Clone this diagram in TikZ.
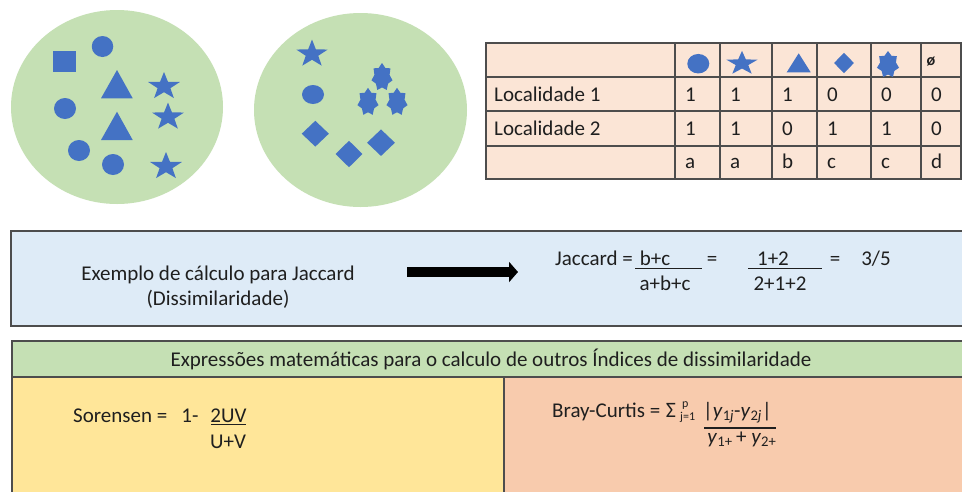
\documentclass[tikz,border=0pt]{standalone}
\usepackage{fontspec}
\setmainfont{Carlito}
\usetikzlibrary{shapes.geometric,arrows.meta}
\definecolor{leafgreen}{HTML}{C5E0B4}
\definecolor{shapeblue}{HTML}{4472C4}
\definecolor{tablepeach}{HTML}{FBE5D6}
\definecolor{boxblue}{HTML}{DEEBF7}
\definecolor{panelyellow}{HTML}{FFE699}
\definecolor{panelsalmon}{HTML}{F8CBAD}
\definecolor{rulegray}{HTML}{4D4D4D}
\definecolor{inkdark}{HTML}{1F1F1F}
\tikzset{
  pics/bluestar/.style n args={5}{code={
    \fill[shapeblue] (0,{-#4}) foreach \k in {1,...,#2} { -- ({(1-(1-#5)*mod(\k,2))*#3*cos(90+180/#1*\k)},{-(1-(1-#5)*mod(\k,2))*#4*sin(90+180/#1*\k)}) } -- cycle;
  }},
}
\begin{document}
\begin{tikzpicture}[x=1pt,y=-1pt,
  lbl/.style={inner sep=0pt, text=inkdark, font=\fontsize{21}{25}\selectfont, anchor=base},
  lblw/.style={lbl, anchor=base west},
  blob/.style={ellipse, fill=shapeblue, inner sep=0pt},
  gem/.style={diamond, fill=shapeblue, inner sep=0pt},
  tabrule/.style={draw=rulegray, line width=1.2pt},
  boxrule/.style={draw=rulegray, line width=1.4pt},
  fracbar/.style={draw=inkdark, line width=1.2pt},
]
\useasboundingbox (0,0) rectangle (962,491);
\fill[white] (0,0) rectangle (962,491);

% ---- site 1 ----
\node[ellipse, fill=leafgreen, minimum width=212pt, minimum height=194pt, inner sep=0pt] (siteA) at (117,107) {};
\node[fill=shapeblue, minimum width=22.7pt, minimum height=21pt, inner sep=0pt] (sqA) at (64.7,61.2) {};
\node[blob, minimum width=21.5pt, minimum height=21pt] (cA1) at (102.5,46.5) {};
\node[blob, minimum width=22pt, minimum height=21pt] (cA2) at (65,108.5) {};
\node[blob, minimum width=22pt, minimum height=21pt] (cA3) at (79,150.5) {};
\node[blob, minimum width=22pt, minimum height=21pt] (cA4) at (113,164.5) {};
\fill[shapeblue] (117,70) -- (132.7,98.3) -- (101,98.3) -- cycle;
\fill[shapeblue] (117,111.7) -- (132.7,140) -- (101,140) -- cycle;
\pic (stA1) at (164,86.4) {bluestar={5}{9}{16.8}{14.4}{0.4}};
\pic (stA2) at (168,117) {bluestar={5}{9}{16.8}{14.4}{0.4}};
\pic (stA3) at (166,166.4) {bluestar={5}{9}{16.8}{14.4}{0.4}};

% ---- site 2 ----
\node[ellipse, fill=leafgreen, minimum width=213pt, minimum height=194pt, inner sep=0pt] (siteB) at (360.5,110) {};
\pic (stB1) at (312,54) {bluestar={5}{9}{16.5}{14.4}{0.4}};
\node[blob, minimum width=22pt, minimum height=19pt] (cB1) at (313,94.5) {};
\pic (sealB1) at (382,77.2) {bluestar={7}{13}{10.8}{14.2}{0.72}};
\pic (sealB2) at (368,102) {bluestar={7}{13}{10.8}{14.2}{0.72}};
\pic (sealB3) at (397,102) {bluestar={7}{13}{10.8}{14.2}{0.72}};
\node[gem, minimum width=27.3pt, minimum height=26pt] (dB1) at (315.3,133.7) {};
\node[gem, minimum width=27pt, minimum height=26.6pt] (dB2) at (349,154) {};
\node[gem, minimum width=28pt, minimum height=26.7pt] (dB3) at (381,142.7) {};

% ---- table ----
\fill[tablepeach] (486,43) rectangle (961,179);
\draw[tabrule] (486,43) rectangle (961,179);
\foreach \yy in {77,111,146} \draw[tabrule] (486,\yy) -- (961,\yy);
\foreach \xx in {675,720,772,817,871,921} \draw[tabrule] (\xx,43) -- (\xx,179);
\node[blob, minimum width=22pt, minimum height=19.5pt] (hcirc) at (698.3,63.7) {};
\pic (hstar) at (742,63.5) {bluestar={5}{9}{16.5}{12.6}{0.4}};
\fill[shapeblue] (798.7,53.3) -- (810.7,72.3) -- (786.7,72.3) -- cycle;
\node[gem, minimum width=20pt, minimum height=20.6pt] (hdiam) at (844,63) {};
\pic (hseal) at (888,64.7) {bluestar={7}{13}{11.3}{13.7}{0.72}};
\node[inner sep=0pt, text=inkdark, font=\fontsize{16}{18}\selectfont\bfseries] (hnull) at (931,62) {ø};

\node[lblw] (loc1) at (494,101.5) {Localidade 1};
\node[lblw] (loc2) at (494,135.8) {Localidade 2};
\foreach \v [count=\i] in {1,1,1,0,0,0} {
  \pgfmathsetmacro{\cx}{{675,720,772,817,871,921}[\i-1]+10}
  \node[lblw] (ra\i) at (\cx,101.5) {\v};
}
\foreach \v [count=\i] in {1,1,0,1,1,0} {
  \pgfmathsetmacro{\cx}{{675,720,772,817,871,921}[\i-1]+10}
  \node[lblw] (rb\i) at (\cx,135.8) {\v};
}
\foreach \v [count=\i] in {a,a,b,c,c,d} {
  \pgfmathsetmacro{\cx}{{675,720,772,817,871,921}[\i-1]+10}
  \node[lblw] (rc\i) at (\cx,168.5) {\v};
}

% ---- Jaccard box ----
\draw[boxrule, fill=boxblue] (11,231) rectangle (975,326);
\node[lbl] (exA) at (218,280) {Exemplo de cálculo para Jaccard};
\node[lbl] (exB) at (218,305) {(Dissimilaridade)};
\coordinate (arrS) at (407,272);
\coordinate (arrE) at (518,272);
\draw[line width=10pt, black, -{Triangle[length=9pt,width=20pt]}] (arrS) -- (arrE);

\node[lblw] (jname) at (555,265) {Jaccard =};
\node[lbl] (jnum) at (655,265) {b+c};
\draw[fracbar] (635,268.5) -- (702,268.5);
\node[lbl] (jden) at (665,290.5) {a+b+c};
\node[lbl] (jeq1) at (712,265) {=};
\node[lbl] (jnum2) at (773,265) {1+2};
\draw[fracbar] (748,268.5) -- (822,268.5);
\node[lbl] (jden2) at (780,290.5) {2+1+2};
\node[lbl] (jeq2) at (835,265) {=};
\node[lbl] (jres) at (876,265) {3/5};

% ---- bottom section ----
\fill[leafgreen] (12,341) rectangle (975,377);
\fill[panelyellow] (12,377) rectangle (504,500);
\fill[panelsalmon] (504,377) rectangle (975,500);
\draw[boxrule] (12,500) -- (12,341) -- (975,341);
\draw[boxrule] (12,377) -- (975,377);
\draw[boxrule] (504,377) -- (504,500);
\node[lbl] (head) at (491,366) {Expressões matemáticas para o calculo de outros Índices de dissimilaridade};

\node[lblw] (sname) at (73,422) {Sorensen =};
\node[lbl] (sone) at (190,422) {1-};
\node[lbl] (snum) at (228.5,422) {2UV};
\draw[fracbar] (211,424.5) -- (246,424.5);
\node[lbl] (sden) at (228,448) {U+V};

\node[lblw] (bname) at (552,417) {Bray-Curtis =};
\node[inner sep=0pt, text=inkdark, font=\fontsize{22}{24}\selectfont, anchor=base] (bsig) at (671,417) {Σ};
\node[inner sep=0pt, text=inkdark, font=\fontsize{12}{14}\selectfont, anchor=base west] (bsup) at (682,407) {p};
\node[inner sep=0pt, text=inkdark, font=\fontsize{12}{14}\selectfont, anchor=base west] (bsub) at (680,420) {j=1};
\node[lblw] (bnum) at (703,417) {|\textit{y}\textsubscript{1\textit{j}}-\textit{y}\textsubscript{2\textit{j}}|};
\draw[fracbar] (704,428) -- (776,428);
\node[lbl] (bden) at (742,443) {\textit{y}\textsubscript{1+}\,+ \textit{y}\textsubscript{2+}};
\end{tikzpicture}
\end{document}
